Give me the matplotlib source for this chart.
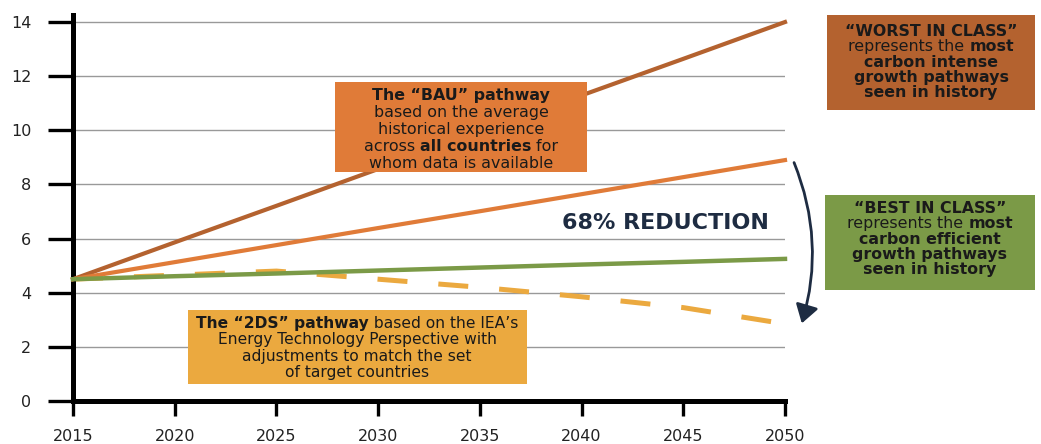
import numpy as np
import matplotlib
matplotlib.use('Agg')
import matplotlib.pyplot as plt
from matplotlib.patches import Rectangle, FancyArrowPatch
from matplotlib.transforms import IdentityTransform

W, H = 1041, 444

years = [2015, 2020, 2025, 2030, 2035, 2040, 2045, 2050]
worst = [4.5, 5.86, 7.21, 8.57, 9.93, 11.29, 12.64, 14.0]
bau = [4.5, 5.13, 5.76, 6.39, 7.01, 7.64, 8.27, 8.9]
best = [4.5, 4.61, 4.71, 4.82, 4.93, 5.04, 5.14, 5.25]
two_ds = [4.5, 4.65, 4.8, 4.5, 4.2, 3.85, 3.45, 2.85]
yticks = [0, 2, 4, 6, 8, 10, 12, 14]

c_worst = '#B4622F'
c_bau = '#E07B38'
c_best = '#7B9A47'
c_2ds = '#EBA93F'
c_navy = '#1E2C42'
c_txt = '#1a1a1a'

plt.rcParams['font.family'] = ['DejaVu Sans']

fig = plt.figure(figsize=(W / 100, H / 100), dpi=100)
ax = fig.add_axes([73 / W, 1 - 401 / H, (785 - 73) / W, (401 - 15) / H])

ax.plot(years, two_ds, color=c_2ds, lw=3.6, dashes=(6, 6.2), zorder=2, clip_on=False)
ax.plot(years, worst, color=c_worst, lw=3.0, zorder=3, clip_on=False)
ax.plot(years, bau, color=c_bau, lw=3.0, zorder=3, clip_on=False)
ax.plot(years, best, color=c_best, lw=3.2, zorder=4, clip_on=False)

ax.set_xlim(2015, 2050)
ax.set_ylim(0, 14.26)
ax.set_xticks(years)
ax.set_yticks(yticks)
ax.yaxis.grid(True, color='#999999', lw=1.0)
ax.set_axisbelow(True)
for s in ['top', 'right']:
    ax.spines[s].set_visible(False)
for s in ['left', 'bottom']:
    ax.spines[s].set_linewidth(3.6)
    ax.spines[s].set_color('black')
ax.tick_params(axis='y', length=18, width=2.4, pad=12, labelsize=11.5, labelcolor='#222222')
ax.tick_params(axis='x', length=11, width=2.4, pad=9, labelsize=11.5, labelcolor='#222222')

renderer = fig.canvas.get_renderer()


def rich_line(segs, cx, cy, size, color=c_txt):
    # segs: list of (text, bold?) ; cx, cy: pixel centre (from top-left), cy = baseline
    texts = []
    for s, b in segs:
        t = fig.text(0, 0, s, fontsize=size, fontweight='bold' if b else 'normal',
                     color=color, ha='left', va='baseline',
                     transform=IdentityTransform(), zorder=10)
        texts.append(t)
    widths = [t.get_window_extent(renderer).width for t in texts]
    x = cx - sum(widths) / 2
    for t, w in zip(texts, widths):
        t.set_position((x, H - cy))
        x += w


def box(x0, y0, x1, y1, color):
    fig.patches.append(Rectangle((x0, H - y1), x1 - x0, y1 - y0, facecolor=color,
                                 edgecolor='none', transform=IdentityTransform(),
                                 zorder=5, figure=fig))


fs = 11.4

# BAU box
box(335, 82, 587, 172, c_bau)
bau_lines = [
    [('The \u201cBAU\u201d pathway', True)],
    [('based on the average', False)],
    [('historical experience', False)],
    [('across ', False), ('all countries', True), (' for', False)],
    [('whom data is available', False)],
]
for i, l in enumerate(bau_lines):
    rich_line(l, 461, 100 + i * 17, fs)

# Worst box
box(827, 15, 1035, 110, c_worst)
worst_lines = [
    [('\u201cWORST IN CLASS\u201d', True)],
    [('represents the ', False), ('most', True)],
    [('carbon intense', True)],
    [('growth pathways', True)],
    [('seen in history', True)],
]
for i, l in enumerate(worst_lines):
    rich_line(l, 931, 36 + i * 15.3, fs)

# Best box
box(825, 195, 1035, 290, c_best)
best_lines = [
    [('\u201cBEST IN CLASS\u201d', True)],
    [('represents the ', False), ('most', True)],
    [('carbon efficient', True)],
    [('growth pathways', True)],
    [('seen in history', True)],
]
for i, l in enumerate(best_lines):
    rich_line(l, 930, 213 + i * 15.3, fs)

# 2DS box
box(188, 310, 527, 384, c_2ds)
ds_lines = [
    [('The \u201c2DS\u201d pathway', True), (' based on the IEA\u2019s', False)],
    [('Energy Technology Perspective with', False)],
    [('adjustments to match the set', False)],
    [('of target countries', False)],
]
for i, l in enumerate(ds_lines):
    rich_line(l, 357, 328 + i * 16.4, 11.2)

# reduction label and arrow
rich_line([('68% REDUCTION', True)], 665, 229, 16, color=c_navy)
arr = FancyArrowPatch((793, H - 160), (801, H - 326), connectionstyle='arc3,rad=-0.18',
                      arrowstyle='-|>,head_length=0.55,head_width=0.35', mutation_scale=20,
                      color=c_navy, lw=2.0, transform=IdentityTransform(), zorder=6)
fig.patches.append(arr)

fig.savefig('out.png', dpi=100)
